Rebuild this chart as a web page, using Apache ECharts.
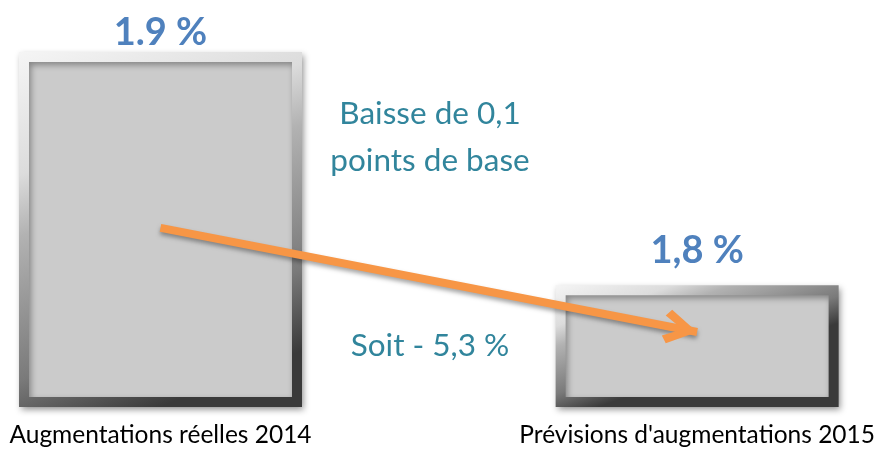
<!DOCTYPE html>
<html>
<head>
<meta charset="utf-8">
<script src="https://cdn.jsdelivr.net/npm/echarts@6/dist/echarts.min.js"></script>
<style>
html, body { margin: 0; padding: 0; background: #fff; }
#main { width: 878px; height: 450px; }
</style>
</head>
<body>
<div id="main"></div>
<script>
// données
var categories = ['Augmentations réelles 2014', "Prévisions d'augmentations 2015"];
var values = [1.9, 1.8];
var valueLabels = ['1.9 %', '1,8 %'];
var noteTop = ['Baisse de 0,1', 'points de base'];
var noteBottom = 'Soit - 5,3 %';
// flèche : du milieu de la barre 2014 vers la barre 2015
var arrowFrom = [0, 1.8246];
var arrowTo = [1, 1.78];

var myChart = echarts.init(document.getElementById('main'));

// effet biseau approximatif (haut clair, droite sombre)
function bevel(dx) {
	return new echarts.graphic.LinearGradient(0, 0, dx, 1, [
		{ offset: 0, color: '#f5f5f5' },
		{ offset: 0.3, color: '#dcdcdc' },
		{ offset: 0.45, color: '#b2b2b2' },
		{ offset: 0.8, color: '#7a7a7a' },
		{ offset: 1, color: '#3a3a3a' }
	]);
}

var option = {
	animation: false,
	grid: { left: 160.5, right: 179.5, top: 52, bottom: 48 },
	xAxis: {
		type: 'category',
		data: categories,
		boundaryGap: false,
		axisLine: { show: false },
		axisTick: { show: false },
		axisLabel: {
			margin: 21,
			fontSize: 24.5,
			fontFamily: 'Lato',
			color: '#000'
		}
	},
	yAxis: {
		type: 'value',
		min: 1.75,
		max: 1.9,
		show: false
	},
	series: [{
		type: 'bar',
		barWidth: 283,
		data: values.map(function (v, i) {
			return {
				value: v,
				label: { distance: i ? 16 : 0 },
				itemStyle: { borderColor: bevel(i ? 0.15 : 0.5) }
			};
		}),
		itemStyle: {
			color: '#cbcbcb',
			borderWidth: 10,
			shadowBlur: 6,
			shadowColor: 'rgba(0,0,0,0.35)',
			shadowOffsetX: 2,
			shadowOffsetY: 3
		},
		label: {
			show: true,
			position: 'top',
			formatter: function (p) { return valueLabels[p.dataIndex]; },
			fontSize: 38,
			fontWeight: 'bold',
			fontFamily: 'Lato',
			color: '#4f81bd'
		},
		markLine: {
			silent: true,
			symbol: ['none', 'path://M15,0 L30,27 L24,32 L15,14 L6,32 L0,27 Z'],
			symbolSize: [34, 34],
			symbolOffset: [[0, 0], [0, '50%']],
			label: { show: false },
			lineStyle: {
				type: 'solid',
				color: '#f79646',
				width: 8,
				shadowBlur: 4,
				shadowColor: 'rgba(0,0,0,0.35)',
				shadowOffsetY: 3
			},
			data: [[{ coord: arrowFrom }, { coord: arrowTo }]]
		}
	}],
	graphic: [
		{
			type: 'text',
			x: 430, y: 137,
			style: {
				text: noteTop.join('\n'),
				align: 'center',
				verticalAlign: 'middle',
				lineHeight: 47,
				fontSize: 31.5,
				fontFamily: 'Lato',
				fill: '#31859c'
			}
		},
		{
			type: 'text',
			x: 430, y: 346,
			style: {
				text: noteBottom,
				align: 'center',
				verticalAlign: 'middle',
				fontSize: 31.5,
				fontFamily: 'Lato',
				fill: '#31859c'
			}
		}
	]
};
myChart.setOption(option);
</script>
</body>
</html>
